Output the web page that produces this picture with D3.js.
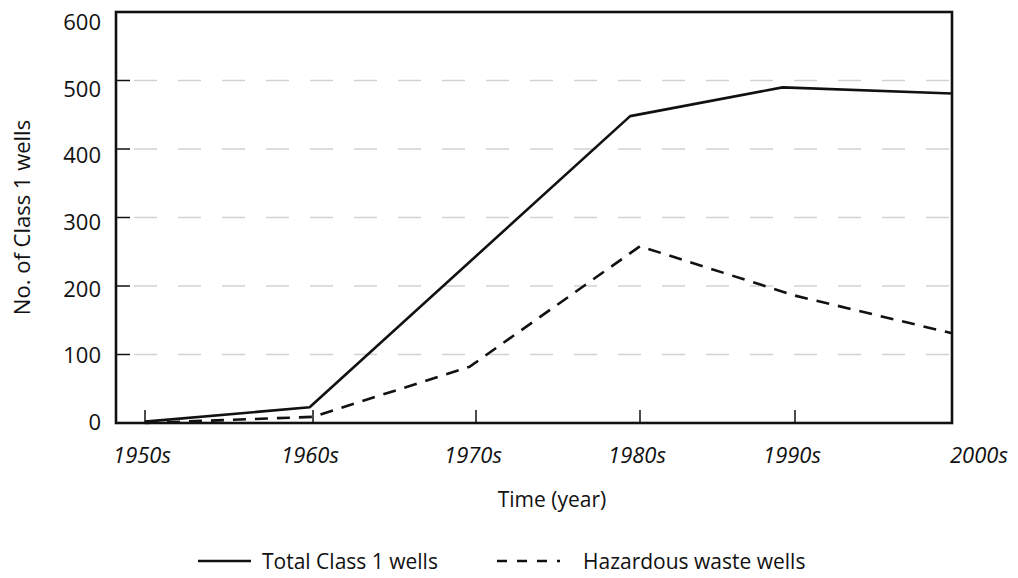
<!DOCTYPE html>
<html>
<head>
<meta charset="utf-8">
<script src="https://cdn.jsdelivr.net/npm/d3@7/dist/d3.min.js"></script>
<style>
  html, body { margin: 0; padding: 0; background: #fff; }
  svg text { font-family: "Open Sans", "Noto Sans", sans-serif; fill: #111; }
</style>
</head>
<body>
<svg id="chart" width="1018" height="578"></svg>
<script>
// Data
const decades = [1950, 1960, 1970, 1980, 1990, 2000];
const decadeLabels = ['1950s', '1960s', '1970s', '1980s', '1990s', '2000s'];
const yTicks = [0, 100, 200, 300, 400, 500, 600];
const totalYears = [1950, 1959.8, 1979.4, 1989.2, 2000];
const totalWells = [2, 23, 448, 490, 481];
const hazardYears = [1950, 1960, 1969.6, 1980, 1990, 2000];
const hazardWells = [0, 9, 82, 258, 186, 131];
const seriesNames = ['Total Class 1 wells', 'Hazardous waste wells'];

const svg = d3.select('#chart');
const plot = {left: 116, right: 952, top: 12, bottom: 423};

// Scales (uneven spacing of the decade ticks in the original)
const x = d3.scaleLinear()
    .domain(decades)
    .range([145, 313, 476, 640, 795, 952]);
const y = d3.scaleLinear()
    .domain([0, 600])
    .range([plot.bottom, plot.top]);
// the tick labels sit on a slightly tighter spacing than the grid
const yLabel = d3.scaleLinear()
    .domain([0, 600])
    .range([422, 22]);

// Gridlines
svg.append('g')
    .selectAll('line')
    .data(yTicks.filter(d => d > 0 && d < 600))
    .enter()
    .append('line')
    .attr('x1', plot.left + 18)
    .attr('x2', plot.right)
    .attr('y1', d => y(d))
    .attr('y2', d => y(d))
    .attr('stroke', '#d2d2d2')
    .attr('stroke-width', 1.5)
    .attr('stroke-dasharray', '23,21');

// Y tick marks (inside) + labels
const yAxis = svg.append('g');
yAxis.selectAll('line')
    .data(yTicks.filter(d => d > 0 && d < 600))
    .enter()
    .append('line')
    .attr('x1', plot.left)
    .attr('x2', plot.left + 14)
    .attr('y1', d => y(d))
    .attr('y2', d => y(d))
    .attr('stroke', '#111')
    .attr('stroke-width', 1.5);
yAxis.selectAll('text')
    .data(yTicks)
    .enter()
    .append('text')
    .attr('x', 101)
    .attr('y', d => yLabel(d))
    .attr('dy', '0.36em')
    .attr('text-anchor', 'end')
    .attr('font-size', '22px')
    .text(d => d);

// X tick marks (inside, pointing up)
svg.append('g')
    .selectAll('line')
    .data(decades.slice(0, -1))
    .enter()
    .append('line')
    .attr('x1', d => x(d))
    .attr('x2', d => x(d))
    .attr('y1', plot.bottom)
    .attr('y2', plot.bottom - 13)
    .attr('stroke', '#111')
    .attr('stroke-width', 1.5);

svg.append('g')
    .selectAll('text')
    .data(decades)
    .enter()
    .append('text')
    .attr('x', (d, i) => i === decades.length - 1 ? x(d) - 2 : x(d) - 3)
    .attr('y', 463)
    .attr('text-anchor', (d, i) => i === decades.length - 1 ? 'start' : 'middle')
    .attr('font-size', '22px')
    .attr('font-style', 'italic')
    .text((d, i) => decadeLabels[i]);

// Lines
const line = d3.line()
    .x(d => x(d[0]))
    .y(d => y(d[1]));

svg.append('path')
    .datum(d3.zip(totalYears, totalWells))
    .attr('d', line)
    .attr('fill', 'none')
    .attr('stroke', '#111')
    .attr('stroke-width', 2.6)
    .attr('stroke-linejoin', 'round');

svg.append('path')
    .datum(d3.zip(hazardYears, hazardWells))
    .attr('d', line)
    .attr('fill', 'none')
    .attr('stroke', '#111')
    .attr('stroke-width', 2.6)
    .attr('stroke-dasharray', '13,9');

// Frame
svg.append('rect')
    .attr('x', plot.left)
    .attr('y', plot.top)
    .attr('width', plot.right - plot.left)
    .attr('height', plot.bottom - plot.top)
    .attr('fill', 'none')
    .attr('stroke', '#111')
    .attr('stroke-width', 2.6);

// Axis titles
svg.append('text')
    .attr('transform', `translate(30,${(plot.top + plot.bottom) / 2}) rotate(-90)`)
    .attr('text-anchor', 'middle')
    .attr('font-size', '22px')
    .text('No. of Class 1 wells');

svg.append('text')
    .attr('x', 552)
    .attr('y', 507)
    .attr('text-anchor', 'middle')
    .attr('font-size', '21px')
    .text('Time (year)');

// Legend
const legend = svg.append('g');
legend.append('line')
    .attr('x1', 198).attr('x2', 251)
    .attr('y1', 561).attr('y2', 561)
    .attr('stroke', '#111').attr('stroke-width', 2.6);
legend.append('text')
    .attr('x', 262).attr('y', 569)
    .attr('font-size', '21px')
    .text(seriesNames[0]);
legend.append('line')
    .attr('x1', 497).attr('x2', 560)
    .attr('y1', 561).attr('y2', 561)
    .attr('stroke', '#111').attr('stroke-width', 2.6)
    .attr('stroke-dasharray', '10,10');
legend.append('text')
    .attr('x', 583).attr('y', 569)
    .attr('font-size', '21px')
    .text(seriesNames[1]);
</script>
</body>
</html>
